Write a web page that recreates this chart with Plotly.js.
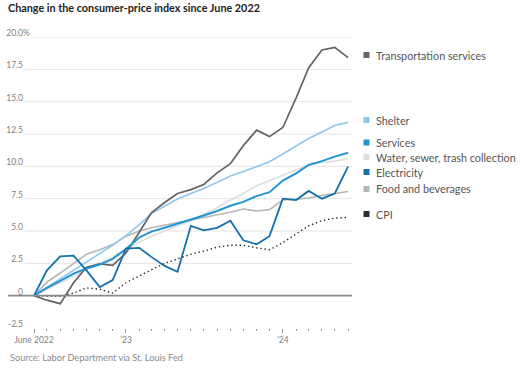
<!DOCTYPE html>
<html><head><meta charset="utf-8">
<script src="https://cdn.plot.ly/plotly-3.0.1.min.js"></script>
<style>html,body{margin:0;padding:0;background:#fff}#chart{width:524px;height:368px}</style>
</head><body><div id="chart"></div>
<script>
// ---- data ----
const months = ["2022-06-01","2022-07-01","2022-08-01","2022-09-01","2022-10-01","2022-11-01","2022-12-01",
  "2023-01-01","2023-02-01","2023-03-01","2023-04-01","2023-05-01","2023-06-01","2023-07-01","2023-08-01",
  "2023-09-01","2023-10-01","2023-11-01","2023-12-01","2024-01-01","2024-02-01","2024-03-01","2024-04-01",
  "2024-05-01","2024-06-01"];
const transportation = [0,-0.35,-0.62,1.0,2.2,2.45,2.35,3.3,4.9,6.4,7.2,7.9,8.2,8.6,9.5,10.2,11.6,12.8,12.3,13.0,15.3,17.6,19.0,19.2,18.4];
const shelter = [0,0.65,1.3,1.95,2.6,3.25,3.9,4.65,5.5,6.35,6.93,7.47,7.9,8.28,8.76,9.25,9.6,9.95,10.35,10.95,11.6,12.15,12.65,13.15,13.4];
const services = [0,0.6,1.15,1.7,2.1,2.4,2.85,3.6,4.5,4.95,5.25,5.55,5.9,6.2,6.55,6.95,7.25,7.7,8.0,8.9,9.45,10.1,10.4,10.75,11.05];
const water = [0,0.5,1.0,1.5,2.0,2.5,3.0,3.6,4.1,4.6,5.0,5.4,5.8,6.3,6.8,7.4,7.9,8.5,8.9,9.3,9.7,10.1,10.3,10.4,10.6];
const electricity = [0,1.96,3.04,3.1,1.96,0.67,1.2,3.63,3.7,3.0,2.3,1.85,5.4,5.05,5.25,5.8,4.28,3.97,4.6,7.5,7.4,8.1,7.5,7.9,10.0];
const food = [0,1.05,1.75,2.5,3.2,3.55,3.95,4.6,5.0,5.25,5.45,5.65,5.8,6.0,6.25,6.45,6.7,6.55,6.65,7.4,7.45,7.55,7.75,7.9,8.05];
const cpi = [0,0,-0.05,0.2,0.6,0.5,0.2,1.0,1.55,2.0,2.5,2.85,3.2,3.45,3.75,3.9,3.9,3.7,3.55,4.1,4.75,5.4,5.8,6.0,6.05];

const labels = ["Transportation services","Shelter","Services","Water, sewer, trash collection","Electricity","Food and beverages","CPI"];
const yTickVals = [-2.5,0,2.5,5,7.5,10,12.5,15,17.5,20];
const yTickText = ["-2.5","0","2.5","5.0","7.5","10.0","12.5","15.0","17.5","20.0"];
const yUnit = "%";
const xTickVals = ["2022-06-01","2023-01-01","2024-01-01"];
const xTickText = ["June 2022","’23","’24"];

// ---- styling ----
const FONT = 'Lato, "Noto Sans", sans-serif';
const W = 524, H = 368;
const M = {l:25, r:172, t:37, b:40};
const PW = W - M.l - M.r, PH = H - M.t - M.b;
const px2x = p => (p - M.l) / PW;
const px2y = p => (H - M.b - p) / PH;

const colors = {
  transportation:'#646464', shelter:'#8fc7ea', services:'#2196d3', water:'#dedede',
  electricity:'#1670a8', food:'#b6b6b6', cpi:'#2a2a2a'
};

const traces = [
  {y: water, line:{color:colors.water, width:1.6}},
  {y: food, line:{color:colors.food, width:1.6}},
  {y: shelter, line:{color:colors.shelter, width:1.6}},
  {y: transportation, line:{color:colors.transportation, width:1.7}},
  {y: services, line:{color:colors.services, width:2}},
  {y: electricity, line:{color:colors.electricity, width:1.8}},
  {y: cpi, line:{color:colors.cpi, width:1.4, dash:'1.4px,2.8px'}}
].map(t => Object.assign({x: months, type:'scatter', mode:'lines', hoverinfo:'skip'}, t));

// legend entries (label, colour, pixel y)
const legendItems = [
  [labels[0], colors.transportation, 55],
  [labels[1], colors.shelter, 120],
  [labels[2], colors.services, 142.5],
  [labels[3], colors.water, 157],
  [labels[4], colors.electricity, 172],
  [labels[5], colors.food, 189],
  [labels[6], colors.cpi, 214]
];

const tickFont = {family:FONT, size:8.5, color:'#808080'};
const GRID = '#e4e4e4';
const shapes = [];
// horizontal gridlines at the axis tick values (above the bottom edge, zero drawn separately)
yTickVals.filter(v => v > 0).forEach(v => {
  shapes.push({type:'line', xref:'paper', yref:'y', x0:0, x1:1, y0:v, y1:v,
    line:{color:GRID, width:1}, layer:'below'});
});
shapes.push({type:'line', xref:'paper', yref:'y', x0:px2x(8), x1:px2x(352), y0:0, y1:0,
   line:{color:'#8a8a8a', width:1.6}, layer:'above'});

const annotations = [
  {xref:'paper', yref:'paper', x:px2x(8), y:px2y(357), xanchor:'left', yanchor:'middle',
   text:'Source: Labor Department via St. Louis Fed', showarrow:false,
   font:{family:FONT, size:9.2, color:'#8a8a8a'}},
  // hanging unit after top tick label
  {xref:'paper', yref:'y', x:px2x(22), y:yTickVals[yTickVals.length-1], xanchor:'left', yanchor:'middle',
   yshift:4, text:yUnit, showarrow:false, font:tickFont, borderpad:0}
];
legendItems.forEach(([txt, col, py]) => {
  shapes.push({type:'rect', xref:'paper', yref:'paper', x0:px2x(363.5), x1:px2x(369.5),
    y0:px2y(py+3), y1:px2y(py-3), fillcolor:col, line:{width:0}});
  annotations.push({xref:'paper', yref:'paper', x:px2x(374), y:px2y(py), xanchor:'left', yanchor:'middle',
    text:txt, showarrow:false, font:{family:FONT, size:10.8, color:'#555'}});
});

const layout = {
  width:W, height:H, margin:M, showlegend:false,
  paper_bgcolor:'#fff', plot_bgcolor:'#fff',
  title:{text:'<b>Change in the consumer-price index since June 2022</b>', x:8/W, xanchor:'left',
    y:1-4/H, yanchor:'top', font:{family:FONT, size:10.8, color:'#222'}},
  xaxis:{type:'date', range:['2022-05-11','2024-06-10'], tickvals:xTickVals, ticktext:xTickText,
    showgrid:false, zeroline:false, showline:false, ticks:'outside', ticklen:4, tickcolor:'#999', tickwidth:1,
    minor:{dtick:'M1', tick0:'2022-06-01', ticks:'outside', ticklen:2, tickcolor:'#999', showgrid:false},
    tickfont:tickFont, fixedrange:true},
  yaxis:{range:[-2.5,20], tickmode:'array', tickvals:yTickVals, ticktext:yTickText,
    showgrid:false, zeroline:false, showline:false, ticks:'', ticklabelshift:-4, ticklabelstandoff:1,
    tickfont:tickFont, fixedrange:true},
  shapes, annotations
};

Plotly.newPlot('chart', traces, layout, {staticPlot:true, displayModeBar:false});
</script></body></html>
